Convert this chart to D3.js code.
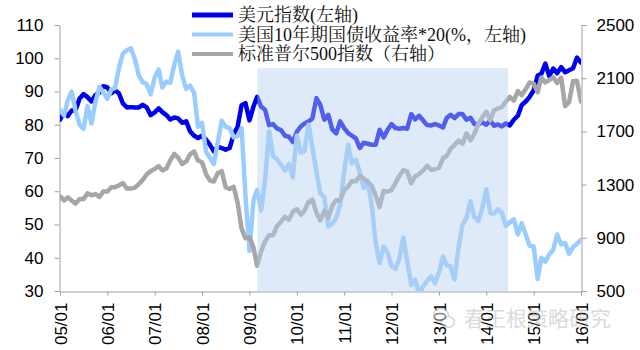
<!DOCTYPE html>
<html>
<head>
<meta charset="utf-8">
<script src="https://cdn.jsdelivr.net/npm/d3@7/dist/d3.min.js"></script>
<style>
  body { margin: 0; background: #fff; }
  svg { display: block; }
</style>
</head>
<body>
<svg id="chart" width="640" height="350"></svg>
<script>
// Month-start readings, Jan 2005 .. Jan 2016 (133 points each)
const startYear = 2005;

// 美元指数 (left axis)
const dollarIndex = [
  81.5, 83.7, 82.6, 84.3, 84.3, 87.9, 89.2, 88.3, 87.0, 88.9, 89.7, 91.6, // 2005
  91.2, 89.5, 90.4, 89.4, 86.4, 85.2, 85.3, 85.2, 85.2, 86.0, 85.2, 82.9, // 2006
  83.7, 84.9, 83.8, 82.9, 81.6, 82.2, 81.9, 80.6, 81.0, 78.0, 76.7, 76.0, // 2007
  76.7, 75.5, 74.0, 72.0, 73.4, 73.0, 72.5, 73.0, 77.1, 79.3, 85.9, 86.5, // 2008
  81.3, 85.5, 88.4, 85.4, 84.5, 79.9, 80.2, 78.9, 78.4, 76.7, 76.4, 74.8, // 2009
  77.9, 79.5, 80.4, 81.0, 81.9, 88.0, 86.0, 81.5, 83.0, 78.6, 77.4, 81.0, // 2010
  79.0, 77.5, 76.7, 75.9, 73.0, 74.6, 74.3, 74.0, 74.0, 78.5, 76.2, 78.4, // 2011
  80.2, 79.0, 78.8, 79.0, 78.8, 83.2, 81.6, 82.7, 81.3, 79.9, 79.8, 80.2, // 2012
  79.8, 79.2, 82.0, 83.0, 82.0, 83.2, 83.2, 81.5, 82.1, 80.2, 80.2, 80.7, // 2013
  80.0, 81.3, 79.7, 80.1, 79.5, 80.4, 79.8, 81.5, 82.7, 85.9, 87.0, 88.4, // 2014
  90.3, 94.8, 95.3, 98.4, 94.6, 96.9, 95.5, 97.3, 95.8, 96.4, 97.0, 100.2, // 2015
  98.7                                                                     // 2016
];

// 美国10年期国债收益率 × 20 (left axis)
const treasury10yX20 = [
  84.4, 82.8, 87.2, 90.0, 84.2, 80.0, 78.8, 85.6, 80.4, 86.8, 91.4, 89.8,
  87.8, 90.6, 91.0, 97.2, 101.4, 102.4, 103.0, 99.8, 94.8, 92.8, 92.2, 89.2,
  94.2, 96.6, 91.2, 93.0, 92.6, 98.0, 102.0, 94.8, 90.8, 91.8, 89.6, 79.4,
  80.6, 71.8, 70.2, 68.2, 74.6, 81.2, 79.4, 79.0, 76.2, 76.6, 79.0, 58.6,
  42.0, 57.4, 60.4, 54.2, 63.2, 78.0, 70.6, 69.6, 68.0, 66.2, 68.2, 64.2,
  76.8, 71.6, 72.2, 80.0, 73.2, 65.8, 59.4, 58.2, 49.4, 50.2, 52.0, 56.0,
  66.0, 74.0, 68.4, 69.4, 65.8, 61.0, 63.2, 56.0, 44.4, 38.4, 43.4, 41.6,
  37.6, 36.6, 39.6, 46.0, 39.0, 31.8, 33.4, 29.0, 31.4, 33.0, 34.4, 32.4,
  35.6, 40.4, 37.8, 37.4, 33.4, 43.2, 49.8, 52.0, 57.0, 52.2, 51.0, 55.0,
  60.6, 53.4, 53.2, 54.6, 53.4, 49.6, 50.6, 51.6, 47.0, 50.4, 47.0, 43.6,
  43.4, 33.6, 40.0, 38.8, 41.0, 42.4, 47.0, 44.0, 44.4, 41.2, 43.2, 44.2,
  45.4
];

// 标准普尔500指数 (right axis)
const sp500 = [
  1212, 1181, 1204, 1181, 1157, 1192, 1191, 1234, 1220, 1229, 1207, 1249,
  1248, 1280, 1281, 1295, 1311, 1270, 1270, 1277, 1304, 1336, 1378, 1401,
  1418, 1438, 1407, 1421, 1482, 1531, 1503, 1455, 1474, 1527, 1549, 1481,
  1468, 1379, 1331, 1323, 1386, 1400, 1280, 1267, 1283, 1166, 969, 896,
  903, 826, 690, 798, 873, 919, 919, 987, 1021, 1057, 1036, 1096,
  1115, 1074, 1104, 1169, 1187, 1089, 1031, 1102, 1049, 1141, 1183, 1181,
  1258, 1286, 1327, 1326, 1364, 1345, 1321, 1292, 1219, 1131, 1253, 1247,
  1258, 1312, 1366, 1408, 1398, 1310, 1362, 1379, 1407, 1441, 1412, 1416,
  1426, 1498, 1515, 1569, 1598, 1631, 1606, 1686, 1633, 1682, 1757, 1806,
  1848, 1783, 1859, 1872, 1884, 1924, 1960, 1931, 2003, 1972, 2018, 2068,
  2059, 1995, 2105, 2068, 2086, 2107, 2063, 2104, 1890, 1920, 2079, 2080,
  1925
];

const seriesNames = ["美元指数(左轴)", "美国10年期国债收益率*20(%，左轴)", "标准普尔500指数（右轴）"];
const seriesColors = ["#0000f0", "#99ccff", "#a6a6a6"];
const xTickLabels = ["05/01","06/01","07/01","08/01","09/01","10/01","11/01","12/01","13/01","14/01","15/01","16/01"];
const leftTicks = [30, 40, 50, 60, 70, 80, 90, 100, 110];
const rightTicks = [500, 900, 1300, 1700, 2100, 2500];
// highlighted period (dates) and its upper edge on the left axis
const bandDates = ["2009-03-03", "2014-06-17"];
const bandTop = [97];
const watermarkText = "春王根策略研究";

const svg = d3.select("#chart");
const plot = { left: 60, right: 581, top: 25, bottom: 291 };

const months = dollarIndex.map((_, i) => new Date(startYear, i, 1));
const x = d3.scaleTime()
  .domain([new Date(2005, 0, 1), new Date(2016, 0, 1)])
  .range([plot.left, plot.right]);
const yL = d3.scaleLinear().domain([30, 110]).range([plot.bottom, plot.top]);
const yR = d3.scaleLinear().domain([500, 2500]).range([plot.bottom, plot.top]);

svg.append("defs").append("clipPath").attr("id", "plotClip")
  .append("rect")
  .attr("x", plot.left).attr("y", plot.top)
  .attr("width", plot.right - plot.left).attr("height", plot.bottom - plot.top);

const axisFont = "'Liberation Sans', Arial, sans-serif";
const axisColor = "#a0a0a0";

// Left axis
const gL = svg.append("g").attr("transform", `translate(${plot.left - 0.5},0)`)
  .call(d3.axisLeft(yL).tickValues(leftTicks).tickSize(5).tickSizeOuter(0).tickPadding(11)
    .tickFormat(d3.format("d")));
// Right axis
const gR = svg.append("g").attr("transform", `translate(${plot.right + 0.5},0)`)
  .call(d3.axisRight(yR).tickValues(rightTicks).tickSize(5).tickSizeOuter(0).tickPadding(10)
    .tickFormat(d3.format("d")));
// Bottom axis
const yearTicks = xTickLabels.map((_, i) => new Date(startYear + i, 0, 1));
const gB = svg.append("g").attr("transform", `translate(0,${plot.bottom + 0.5})`)
  .call(d3.axisBottom(x).tickValues(yearTicks).tickSize(4).tickSizeOuter(0)
    .tickFormat((d, i) => xTickLabels[i]));
gB.selectAll("text")
  .attr("transform", "rotate(-90)")
  .attr("x", -11).attr("y", 0).attr("dy", "0.36em")
  .style("text-anchor", "end");

[gL, gR, gB].forEach(g => {
  g.selectAll("path.domain").attr("stroke", axisColor);
  g.selectAll(".tick line").attr("stroke", axisColor);
  g.selectAll("text").attr("fill", "#000")
    .style("font-family", axisFont).style("font-size", "17px");
});

// Series lines
const series = [
  { values: dollarIndex, y: yL },
  { values: treasury10yX20, y: yL },
  { values: sp500, y: yR }
];
const lines = svg.append("g").attr("clip-path", "url(#plotClip)");
series.forEach((s, k) => {
  const line = d3.line()
    .x((d, i) => x(months[i]))
    .y(d => s.y(d));
  lines.append("path")
    .datum(s.values)
    .attr("d", line)
    .attr("fill", "none")
    .attr("stroke", seriesColors[k])
    .attr("stroke-width", 4.5)
    .attr("stroke-linejoin", "round")
    .attr("stroke-linecap", "round");
});

// Translucent highlight band over the lines
svg.append("rect")
  .attr("x", x(new Date(bandDates[0])))
  .attr("y", yL(bandTop[0]))
  .attr("width", x(new Date(bandDates[1])) - x(new Date(bandDates[0])))
  .attr("height", yL(30) - yL(bandTop[0]))
  .attr("fill", "rgb(182,208,238)")
  .attr("fill-opacity", 0.45);

// Legend
const legend = svg.append("g");
const legendRows = [15, 34.5, 54];
const legendWidths = [5, 4, 4];
seriesNames.forEach((name, k) => {
  legend.append("line")
    .attr("x1", 192).attr("x2", 233)
    .attr("y1", legendRows[k]).attr("y2", legendRows[k])
    .attr("stroke", seriesColors[k]).attr("stroke-width", legendWidths[k]);
  legend.append("text")
    .attr("x", 238).attr("y", legendRows[k]).attr("dy", "0.36em")
    .style("font-family", "'Liberation Serif', 'Noto Serif CJK SC', 'Noto Sans CJK SC', serif")
    .style("font-size", "18px")
    .attr("fill", "#111")
    .text(name);
});

// Watermark
const wm = svg.append("g").attr("opacity", 0.5);
wm.append("ellipse").attr("cx", 441).attr("cy", 315).attr("rx", 7.5).attr("ry", 6.5)
  .attr("fill", "#fff").attr("stroke", "#b0b0b0").attr("stroke-width", 1.5);
wm.append("ellipse").attr("cx", 448).attr("cy", 322).attr("rx", 6.5).attr("ry", 5.5)
  .attr("fill", "#fff").attr("stroke", "#b0b0b0").attr("stroke-width", 1.5);
wm.append("text")
  .attr("x", 464).attr("y", 318).attr("dy", "0.36em")
  .style("font-family", "'Noto Sans CJK SC', sans-serif")
  .style("font-size", "21px")
  .attr("fill", "#b8b8b8")
  .text(watermarkText);
</script>
</body>
</html>
